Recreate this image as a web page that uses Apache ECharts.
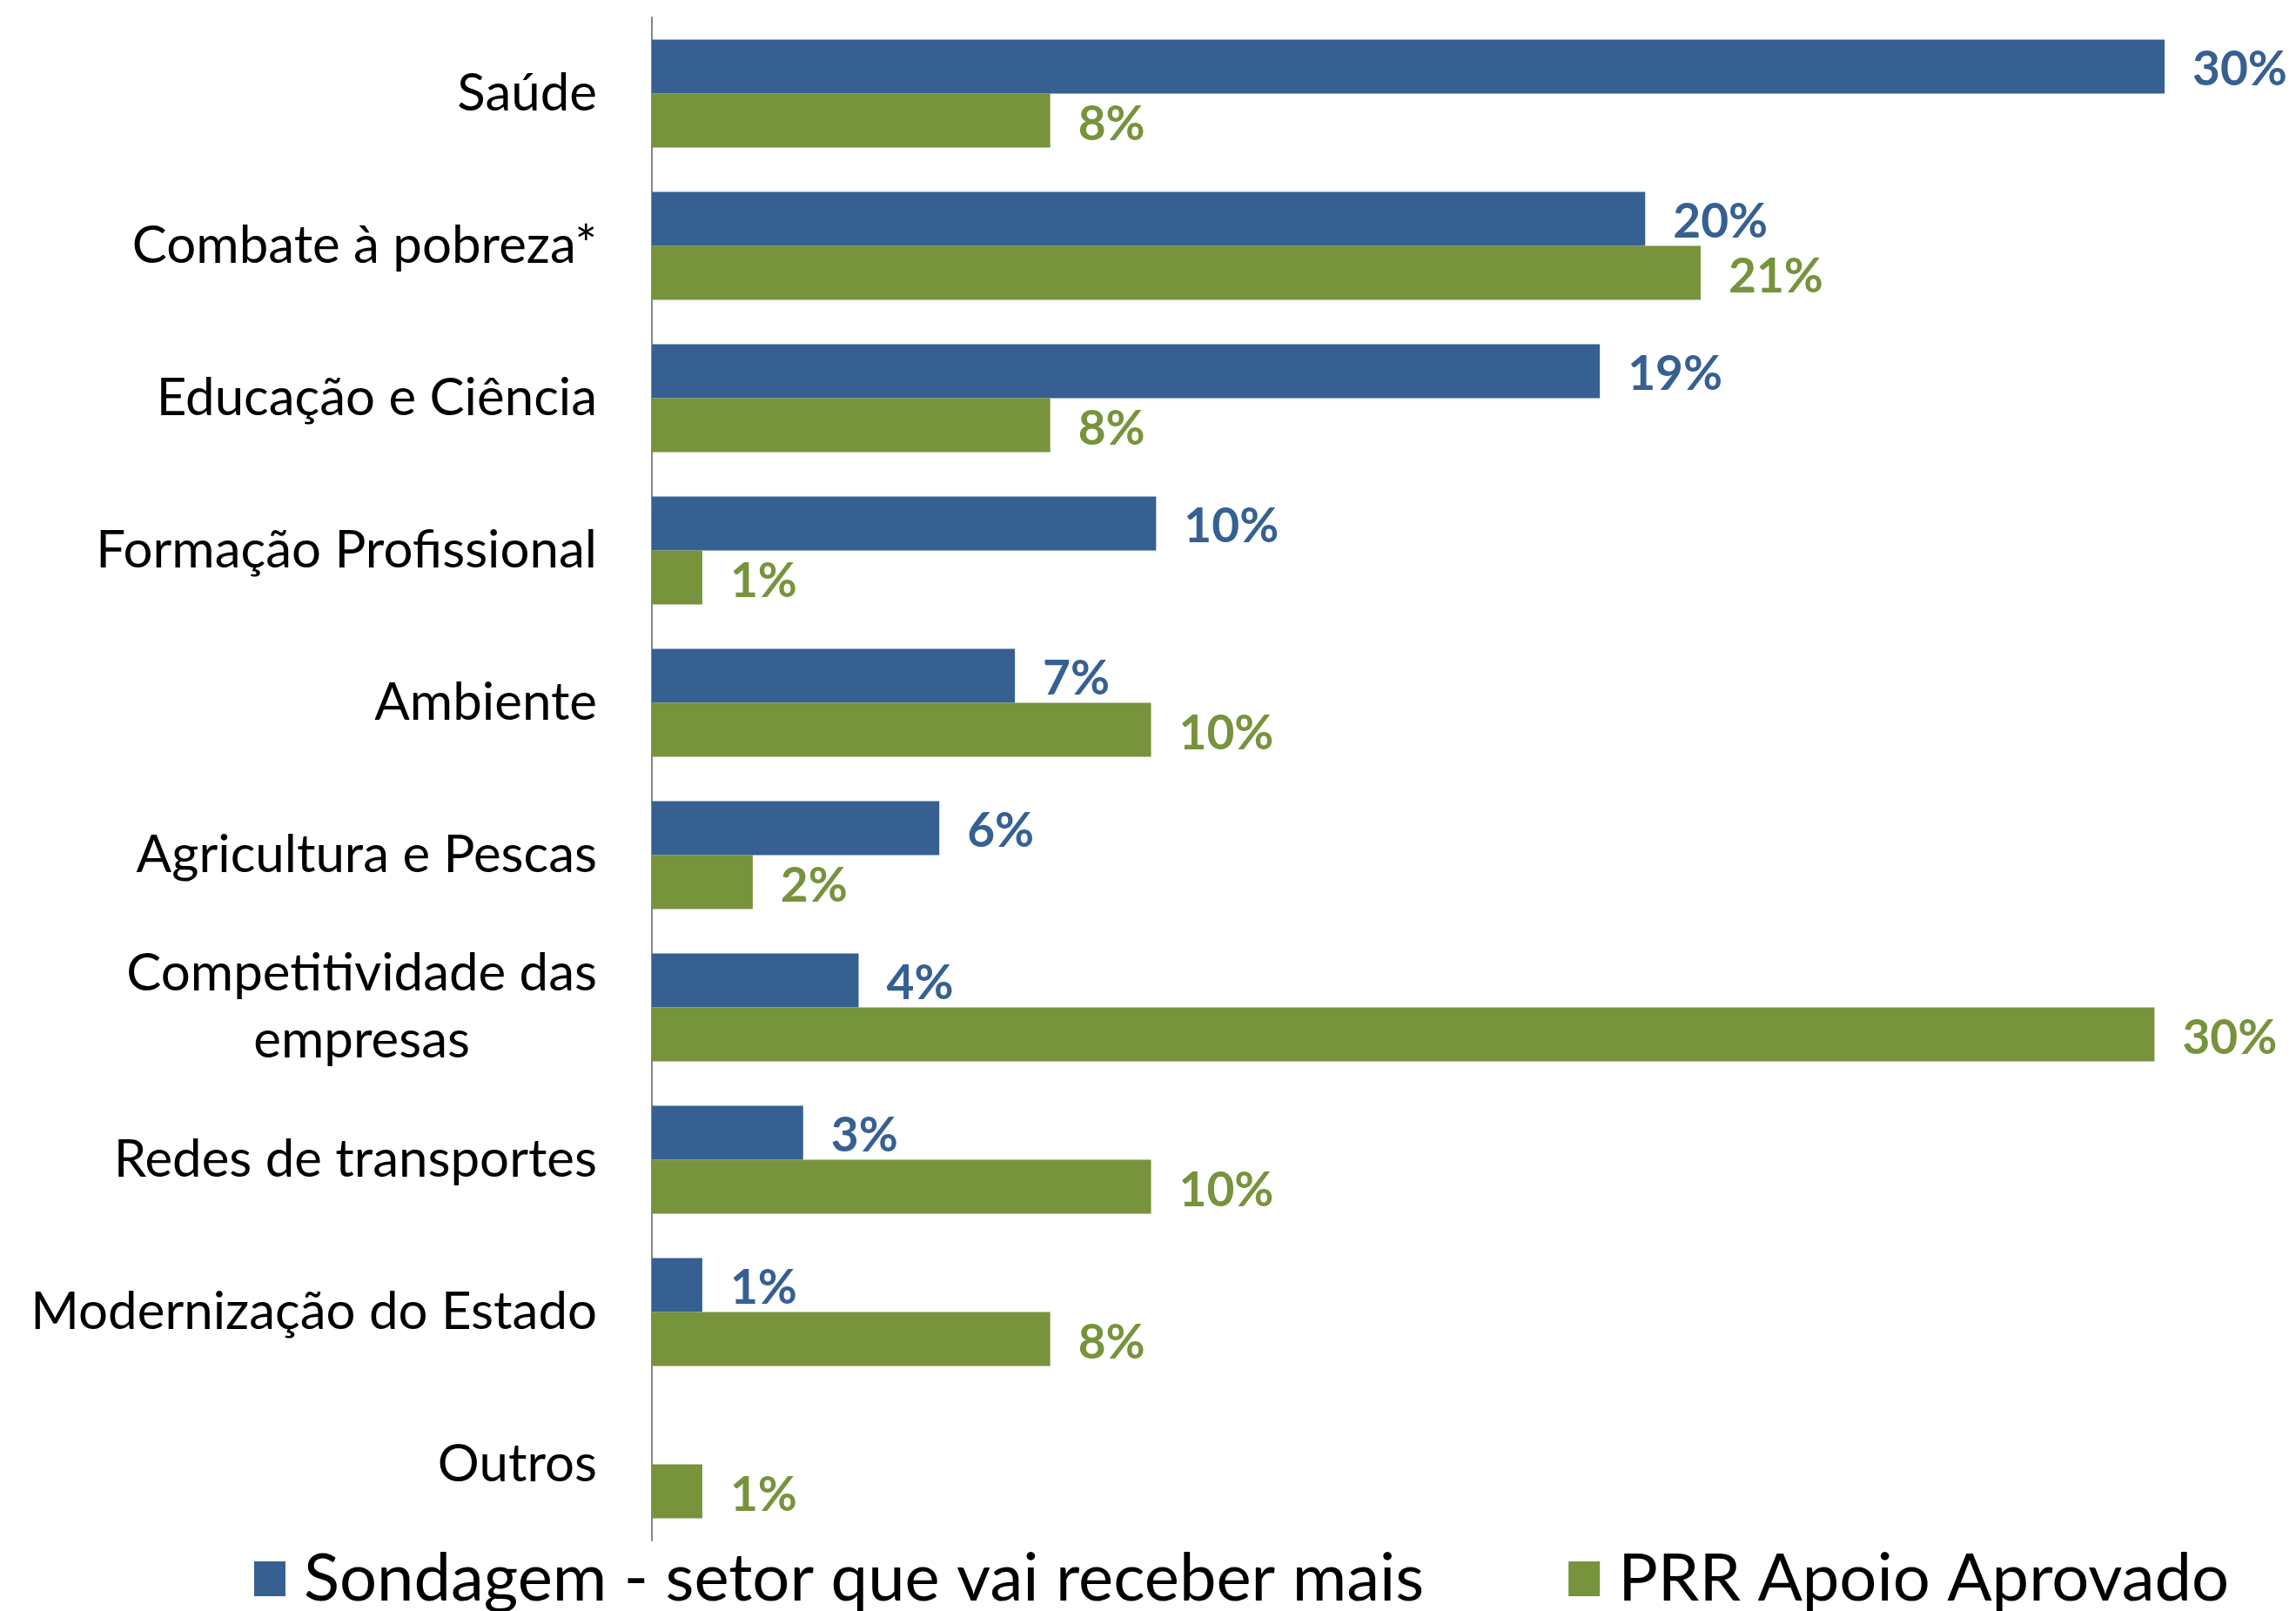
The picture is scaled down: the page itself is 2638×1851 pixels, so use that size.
<!DOCTYPE html>
<html>
<head>
<meta charset="utf-8">
<script src="https://cdn.jsdelivr.net/npm/echarts@6/dist/echarts.min.js"></script>
<style>
html, body { margin: 0; padding: 0; background: #fff; }
#chart { width: 2638px; height: 1851px; }
</style>
</head>
<body>
<div id="chart"></div>
<script>
// setores
const categories = [
    'Saúde',
    'Combate à pobreza*',
    'Educação e Ciência',
    'Formação Profissional',
    'Ambiente',
    'Agricultura e Pescas',
    'Competitividade das\nempresas',
    'Redes de transportes',
    'Modernização do Estado',
    'Outros'
]
const seriesNames = ['Sondagem - setor que vai receber mais', 'PRR Apoio Aprovado']
const sondagem = [30, 19.7, 18.8, 10, 7.2, 5.7, 4.1, 3.0, 1.0, null]
const prrApoio = [7.9, 20.8, 7.9, 1.0, 9.9, 2.0, 29.8, 9.9, 7.9, 1.0]

const blue = '#366092'
const green = '#77933C'
const font = 'Lato'
const catSize = 60

// largura da linha mais comprida, para centrar as linhas do rótulo de 2 linhas
const ctx = document.createElement('canvas').getContext('2d')
ctx.font = catSize + 'px ' + font
function labelWidth(s) {
    return Math.max(...s.split('\n').map(l => ctx.measureText(l).width))
}

let Mycharts = echarts.init(document.getElementById('chart'))
let option = {
    animation: false,
    grid: {
        left: 749,
        right: 151,
        top: 20,
        bottom: 81
    },
    legend: {
        data: seriesNames,
        left: 287,
        top: 1769,
        itemWidth: 36,
        itemHeight: 40,
        itemGap: 166,
        icon: 'rect',
        textStyle: {
            fontFamily: font,
            fontSize: 76,
            lineHeight: 80,
            color: '#000',
            padding: [0, 0, 0, 16]
        }
    },
    xAxis: {
        type: 'value',
        min: 0,
        max: 30,
        show: false
    },
    yAxis: {
        type: 'category',
        inverse: true,
        data: categories,
        axisTick: { show: false },
        axisLine: {
            show: true,
            lineStyle: { color: '#868686', width: 2 }
        },
        axisLabel: {
            margin: 63,
            color: '#000',
            fontFamily: font,
            fontSize: catSize,
            lineHeight: 77,
            formatter: function (v) {
                if (v.indexOf('\n') < 0) return v
                return v.split('\n').map(l => '{c|' + l + '}').join('\n')
            },
            rich: {
                c: {
                    width: labelWidth(categories[6]),
                    align: 'center',
                    fontFamily: font,
                    fontSize: catSize,
                    lineHeight: 77,
                    color: '#000'
                }
            }
        }
    },
    series: [
        {
            name: seriesNames[0],
            type: 'bar',
            data: sondagem,
            barWidth: 62,
            barGap: '0%',
            itemStyle: { color: blue },
            label: {
                show: true,
                position: 'right',
                distance: 32,
                offset: [0, 4],
                color: blue,
                fontFamily: font,
                fontWeight: 'bold',
                fontSize: 55,
                formatter: p => Math.round(p.value) + '%'
            }
        },
        {
            name: seriesNames[1],
            type: 'bar',
            data: prrApoio,
            barWidth: 62,
            barGap: '0%',
            itemStyle: { color: green },
            label: {
                show: true,
                position: 'right',
                distance: 32,
                offset: [0, 5],
                color: green,
                fontFamily: font,
                fontWeight: 'bold',
                fontSize: 55,
                formatter: p => Math.round(p.value) + '%'
            }
        }
    ]
}
Mycharts.setOption(option)
</script>
</body>
</html>
